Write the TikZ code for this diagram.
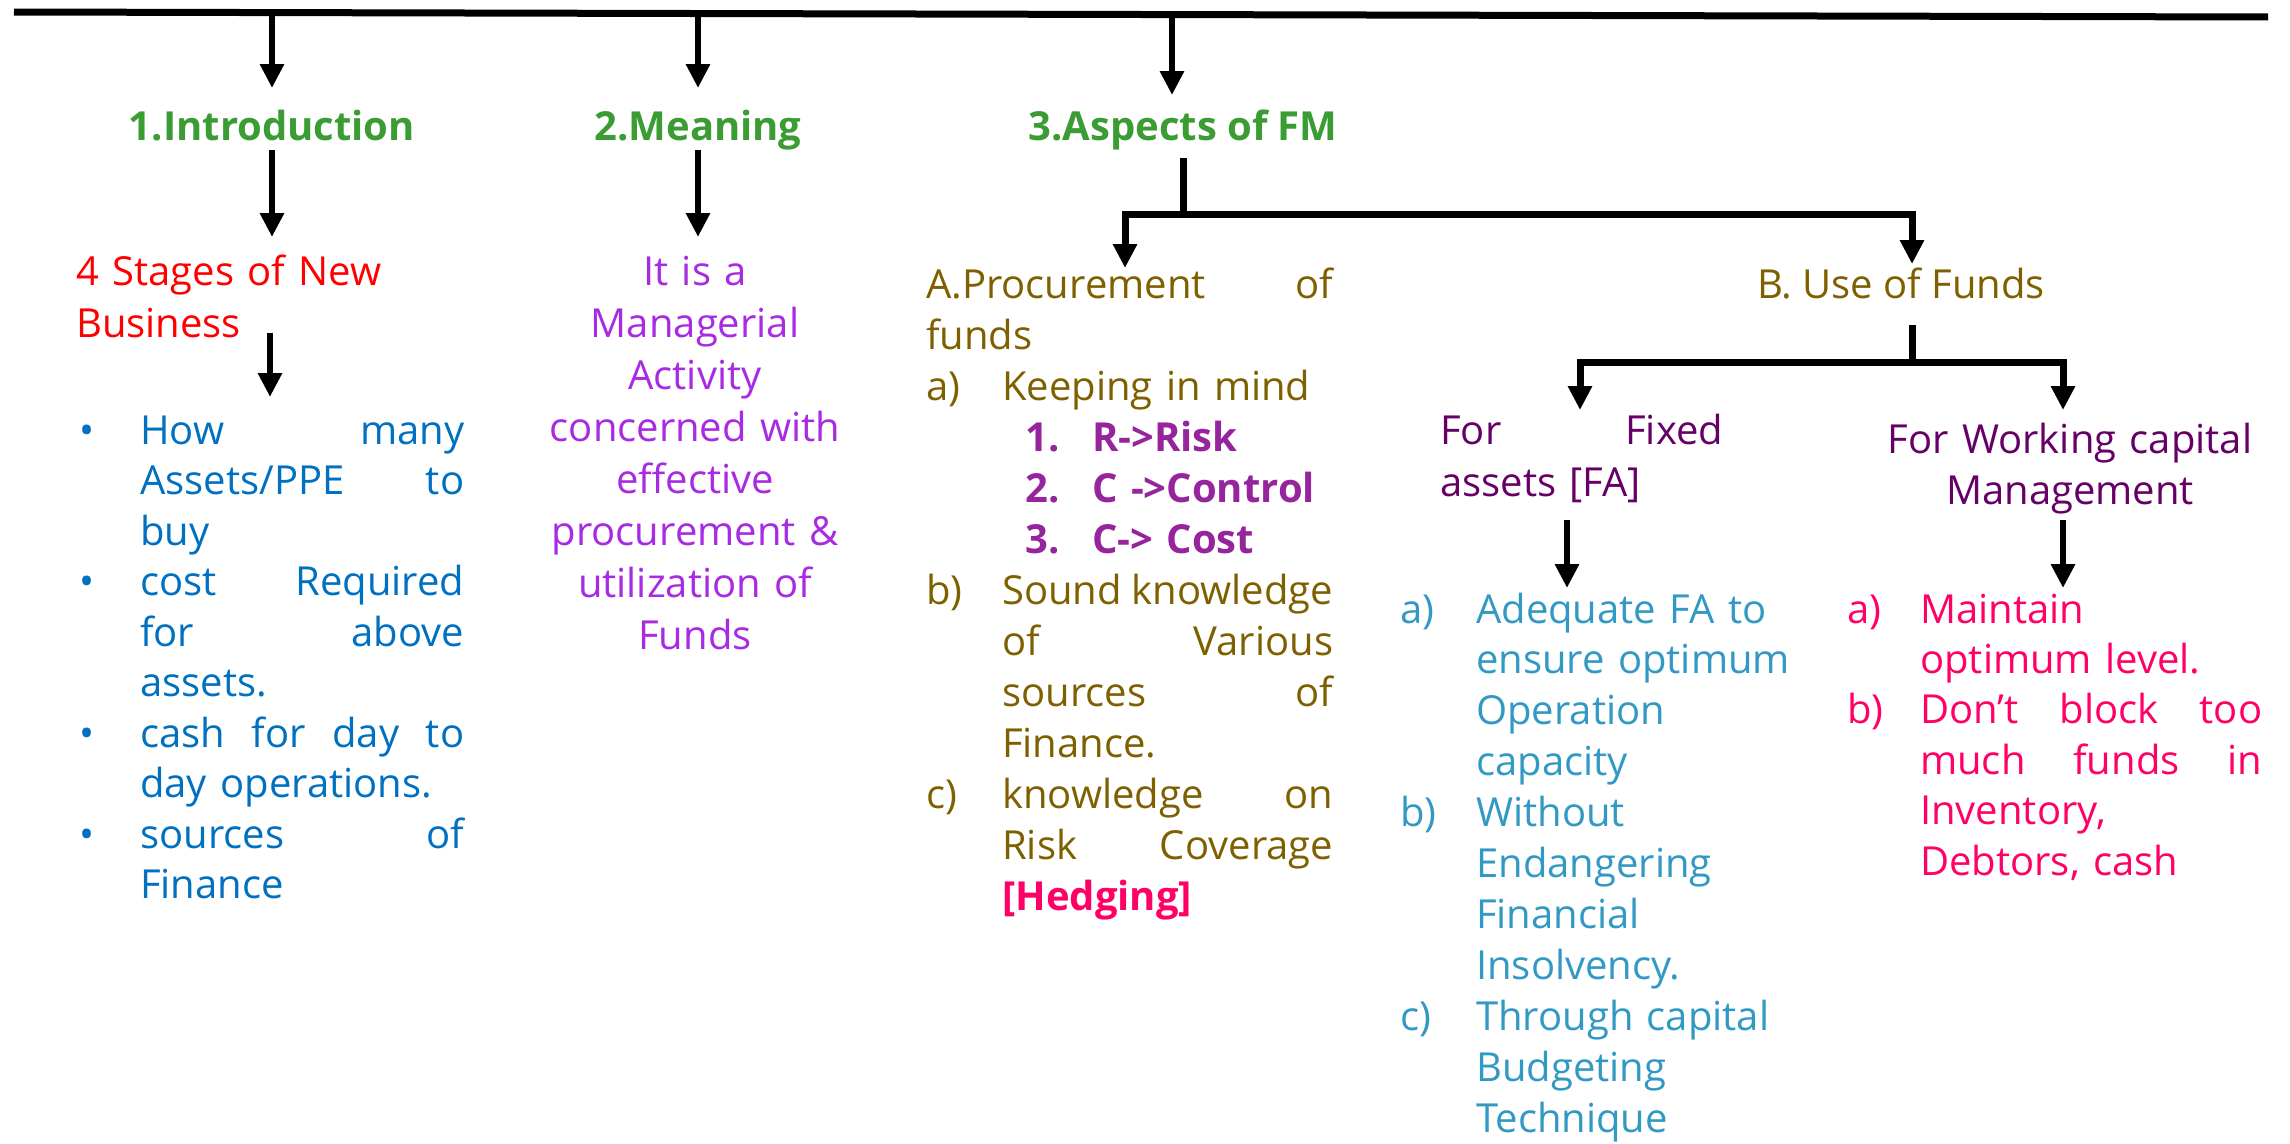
\documentclass[tikz,border=0pt]{standalone}
\usepackage{fontspec}
\setmainfont{Open Sans}
\usetikzlibrary{arrows.meta}

\definecolor{hdgreen}{RGB}{60,156,52}
\definecolor{stagered}{RGB}{255,0,0}
\definecolor{bulblue}{RGB}{0,112,192}
\definecolor{meanpurple}{RGB}{168,42,226}
\definecolor{procbrown}{RGB}{127,96,0}
\definecolor{ruleplum}{RGB}{150,36,156}
\definecolor{hedgepink}{RGB}{255,0,102}
\definecolor{subplum}{RGB}{102,0,102}
\definecolor{fateal}{RGB}{49,153,196}

% justified line of a given width (font spaces, so they can stretch), label box, bullet
\newcommand\jst[2]{{\spaceskip=0pt\xspaceskip=0pt\makebox[#1][s]{#2}}}
\newcommand\lbl[2]{\makebox[#1][l]{#2}}
\newcommand\bul{\makebox[64pt][l]{\hspace{3pt}•}}

\begin{document}
\begin{tikzpicture}[x=1pt,y=-1pt,
  hd/.style={inner sep=0pt, anchor=base, text=hdgreen, font=\fontsize{40}{51}\selectfont\bfseries},
  blk/.style={inner sep=0pt, anchor=base west, align=left},
  arr/.style={-{Triangle[width=23pt,length=24pt]}, line width=6.5pt},
  bar/.style={line width=7pt}]

\fill[white] (0,0) rectangle (2290,1143);
\useasboundingbox (0,0) rectangle (2290,1143);

% ---- headings
\node[hd] (intro) at (272,140) {1.Introduction};
\node[hd] (meaning) at (698,140) {2.Meaning};
\node[hd] (aspects) at (1183,140) {3.Aspects of FM};

% ---- column 1
\node[blk, text width=380pt, text=stagered, font=\fontsize{40}{52}\selectfont] (stages) at (76,285)
  {4 Stages of New\\Business};
\node[blk, text width=420pt, text=bulblue, font=\fontsize{40}{50.5}\selectfont] (assets) at (76,444)
  {\bul\jst{324pt}{How many}\\
   \hspace*{64pt}\jst{324pt}{Assets/PPE to}\\
   \hspace*{64pt}buy\\
   \bul\jst{324pt}{cost Required}\\
   \hspace*{64pt}\jst{324pt}{for above}\\
   \hspace*{64pt}assets.\\
   \bul\jst{324pt}{cash for day to}\\
   \hspace*{64pt}day operations.\\
   \bul\jst{324pt}{sources of}\\
   \hspace*{64pt}Finance};

% ---- column 2
\node[inner sep=0pt, anchor=base, align=center, text width=340pt, text=meanpurple,
      font=\fontsize{40}{52.1}\selectfont] (def) at (695,285)
  {It is a\\Managerial\\Activity\\concerned with\\effective\\procurement \&\\utilization of\\Funds};

% ---- column 3: procurement
\node[blk, text width=430pt, text=procbrown, font=\fontsize{40}{51}\selectfont] (proc) at (926,298)
  {\jst{407pt}{A.Procurement of}\\
   funds\\
   \lbl{76pt}{a)}Keeping in mind\\
   \hspace*{99pt}{\color{ruleplum}\bfseries\lbl{67pt}{1.}R->Risk}\\
   \hspace*{99pt}{\color{ruleplum}\bfseries\lbl{67pt}{2.}C ->Control}\\
   \hspace*{99pt}{\color{ruleplum}\bfseries\lbl{67pt}{3.}C-> Cost}\\
   \lbl{76pt}{b)}\jst{331pt}{Sound knowledge}\\
   \hspace*{76pt}\jst{331pt}{of Various}\\
   \hspace*{76pt}\jst{331pt}{sources of}\\
   \hspace*{76pt}Finance.\\
   \lbl{76pt}{c)}\jst{331pt}{knowledge on}\\
   \hspace*{76pt}\jst{331pt}{Risk Coverage}\\
   \hspace*{76pt}{\color{hedgepink}\bfseries[Hedging]}};

% ---- column 3: use of funds
\node[blk, text=procbrown, font=\fontsize{40}{51}\selectfont] (use) at (1757,298) {B. Use of Funds};

\node[blk, text width=300pt, text=subplum, font=\fontsize{40}{52}\selectfont] (fixed) at (1440,444)
  {\jst{283pt}{For Fixed}\\assets [FA]};
\node[inner sep=0pt, anchor=base, align=center, text width=420pt, text=subplum,
      font=\fontsize{40}{51}\selectfont] (wcm) at (2070,453)
  {For Working capital\\Management};

\node[blk, text width=400pt, text=fateal, font=\fontsize{40}{50.9}\selectfont] (falist) at (1400,623)
  {\lbl{76pt}{a)}Adequate FA to\\
   \hspace*{76pt}ensure optimum\\
   \hspace*{76pt}Operation\\
   \hspace*{76pt}capacity\\
   \lbl{76pt}{b)}Without\\
   \hspace*{76pt}Endangering\\
   \hspace*{76pt}Financial\\
   \hspace*{76pt}Insolvency.\\
   \lbl{76pt}{c)}Through capital\\
   \hspace*{76pt}Budgeting\\
   \hspace*{76pt}Technique};

\node[blk, text width=430pt, text=hedgepink, font=\fontsize{40}{50.4}\selectfont] (wclist) at (1847,623)
  {\lbl{73pt}{a)}Maintain\\
   \hspace*{73pt}optimum level.\\
   \lbl{73pt}{b)}\jst{342pt}{Don’t block too}\\
   \hspace*{73pt}\jst{342pt}{much funds in}\\
   \hspace*{73pt}Inventory,\\
   \hspace*{73pt}Debtors, cash};

% ---- connector end points
\coordinate (busL) at (14,12);
\coordinate (busR) at (2268,17);
\coordinate (d1a) at (272,14);   \coordinate (d1b) at (272,88);
\coordinate (d2a) at (698,15);   \coordinate (d2b) at (698,88);
\coordinate (d3a) at (1172,16);  \coordinate (d3b) at (1172,95);
\coordinate (i1) at (272,150);   \coordinate (i2) at (272,237);
\coordinate (m1) at (698,150);   \coordinate (m2) at (698,237);
\coordinate (s1) at (270,333);   \coordinate (s2) at (270,397);
\coordinate (a1) at (1183,158);  \coordinate (a2) at (1183,214);
\coordinate (aL) at (1125,268);  \coordinate (aR) at (1912,264);
\coordinate (u1) at (1912,325);  \coordinate (u2) at (1912,362);
\coordinate (uL) at (1580,410);  \coordinate (uR) at (2063,410);
\coordinate (f1) at (1567,520);  \coordinate (f2) at (1567,588);
\coordinate (w1) at (2063,520);  \coordinate (w2) at (2063,588);

% ---- connectors
\draw[bar] (busL) -- (busR);
\draw[arr] (d1a) -- (d1b);
\draw[arr] (d2a) -- (d2b);
\draw[arr] (d3a) -- (d3b);
\draw[arr] (i1) -- (i2);
\draw[arr] (m1) -- (m2);
\draw[arr] (s1) -- (s2);
\draw[bar] (a1) -- (a2);
\draw[arr, line width=7pt] (a2) -| (aL);
\draw[arr, line width=7pt] (a2) -| (aR);
\draw[bar] (u1) -- (u2);
\draw[arr, line width=7pt] (u2) -| (uL);
\draw[arr, line width=7pt] (u2) -| (uR);
\draw[arr, line width=6pt] (f1) -- (f2);
\draw[arr, line width=6pt] (w1) -- (w2);
\end{tikzpicture}
\end{document}
